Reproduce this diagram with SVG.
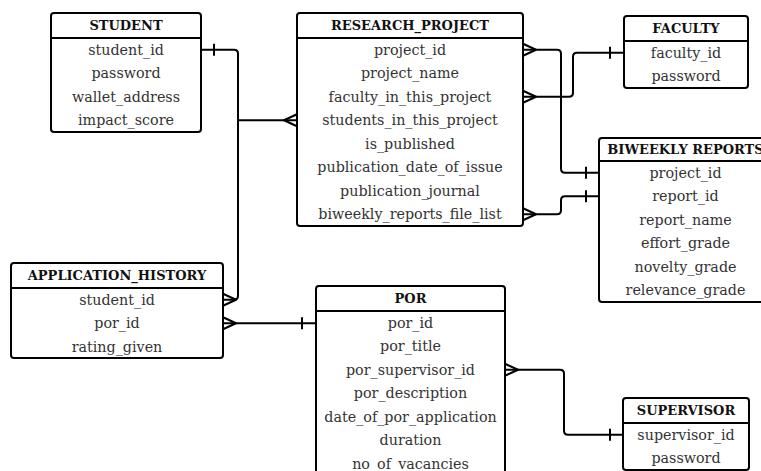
<svg xmlns="http://www.w3.org/2000/svg" width="761" height="471" viewBox="0 0 761 471">
<style>
.box{fill:#fff;stroke:#000;stroke-width:2}
.div{stroke:#000;stroke-width:2}
.t{font-family:"DejaVu Serif","Liberation Serif",serif;font-size:13px;font-weight:bold;fill:#111;text-anchor:middle;dominant-baseline:central}
.r{font-family:"DejaVu Serif","Liberation Serif",serif;font-size:14.3px;fill:#333;text-anchor:middle;dominant-baseline:central}
.c{fill:none;stroke:#000;stroke-width:2;stroke-linejoin:round}
</style>
<rect width="761" height="471" fill="#fff"/>
<g id="connectors">
<path class="c" d="M201,49.75 H234 Q238,49.75 238,53.75 V295.75 Q238,299.75 234,299.75 H223"/>
<path class="c" d="M214,43.75 V55.75"/>
<path class="c" d="M223,293.75 L236,299.75 L223,305.75"/>
<path class="c" d="M238,120.25 H297"/>
<path class="c" d="M297,114.25 L284,120.25 L297,126.25"/>
<path class="c" d="M523,49.75 H557 Q561,49.75 561,53.75 V168.75 Q561,172.75 565,172.75 H599"/>
<path class="c" d="M523,43.75 L536,49.75 L523,55.75"/>
<path class="c" d="M586,166.75 V178.75"/>
<path class="c" d="M523,96.75 H569 Q573,96.75 573,92.75 V56.75 Q573,52.75 577,52.75 H624"/>
<path class="c" d="M523,90.75 L536,96.75 L523,102.75"/>
<path class="c" d="M610,46.75 V58.75"/>
<path class="c" d="M523,214.25 H557 Q561,214.25 561,210.25 V200.25 Q561,196.25 565,196.25 H599"/>
<path class="c" d="M523,208.25 L536,214.25 L523,220.25"/>
<path class="c" d="M586,190.25 V202.25"/>
<path class="c" d="M223,323.25 H316"/>
<path class="c" d="M223,317.25 L236,323.25 L223,329.25"/>
<path class="c" d="M302,317.25 V329.25"/>
<path class="c" d="M505,369.75 H560 Q564,369.75 564,373.75 V430.75 Q564,434.75 568,434.75 H623"/>
<path class="c" d="M505,363.75 L518,369.75 L505,375.75"/>
<path class="c" d="M610,428.75 V440.75"/>
</g>
<g id="student">
<rect class="box" x="51" y="13" width="150" height="119" rx="3"/>
<line class="div" x1="51" y1="38" x2="201" y2="38"/>
<text class="t" x="126" y="25.5">STUDENT</text>
<text class="r" x="126" y="49.75">student_id</text>
<text class="r" x="126" y="73.25">password</text>
<text class="r" x="126" y="96.75">wallet_address</text>
<text class="r" x="126" y="120.25">impact_score</text>
</g>
<g id="research_project">
<rect class="box" x="297" y="13" width="226" height="213" rx="3"/>
<line class="div" x1="297" y1="38" x2="523" y2="38"/>
<text class="t" x="410" y="25.5">RESEARCH_PROJECT</text>
<text class="r" x="410" y="49.75">project_id</text>
<text class="r" x="410" y="73.25">project_name</text>
<text class="r" x="410" y="96.75">faculty_in_this_project</text>
<text class="r" x="410" y="120.25">students_in_this_project</text>
<text class="r" x="410" y="143.75">is_published</text>
<text class="r" x="410" y="167.25">publication_date_of_issue</text>
<text class="r" x="410" y="190.75">publication_journal</text>
<text class="r" x="410" y="214.25">biweekly_reports_file_list</text>
</g>
<g id="faculty">
<rect class="box" x="624" y="16" width="124" height="72" rx="3"/>
<line class="div" x1="624" y1="41" x2="748" y2="41"/>
<text class="t" x="686" y="28.5">FACULTY</text>
<text class="r" x="686" y="52.75">faculty_id</text>
<text class="r" x="686" y="76.25">password</text>
</g>
<g id="biweekly_reports">
<rect class="box" x="599" y="138" width="173" height="164" rx="3"/>
<line class="div" x1="599" y1="161" x2="772" y2="161"/>
<text class="t" x="685.5" y="149.5">BIWEEKLY REPORTS</text>
<text class="r" x="685.5" y="172.75">project_id</text>
<text class="r" x="685.5" y="196.25">report_id</text>
<text class="r" x="685.5" y="219.75">report_name</text>
<text class="r" x="685.5" y="243.25">effort_grade</text>
<text class="r" x="685.5" y="266.75">novelty_grade</text>
<text class="r" x="685.5" y="290.25">relevance_grade</text>
</g>
<g id="application_history">
<rect class="box" x="11" y="263" width="212" height="95" rx="3"/>
<line class="div" x1="11" y1="288" x2="223" y2="288"/>
<text class="t" x="117" y="275.5">APPLICATION_HISTORY</text>
<text class="r" x="117" y="299.75">student_id</text>
<text class="r" x="117" y="323.25">por_id</text>
<text class="r" x="117" y="346.75">rating_given</text>
</g>
<g id="por">
<rect class="box" x="316" y="286" width="189" height="195" rx="3"/>
<line class="div" x1="316" y1="311" x2="505" y2="311"/>
<text class="t" x="410.5" y="298.5">POR</text>
<text class="r" x="410.5" y="322.75">por_id</text>
<text class="r" x="410.5" y="346.25">por_title</text>
<text class="r" x="410.5" y="369.75">por_supervisor_id</text>
<text class="r" x="410.5" y="393.25">por_description</text>
<text class="r" x="410.5" y="416.75">date_of_por_application</text>
<text class="r" x="410.5" y="440.25">duration</text>
<text class="r" x="410.5" y="463.75">no_of_vacancies</text>
</g>
<g id="supervisor">
<rect class="box" x="623" y="398" width="126" height="72" rx="3"/>
<line class="div" x1="623" y1="423" x2="749" y2="423"/>
<text class="t" x="686" y="410.5">SUPERVISOR</text>
<text class="r" x="686" y="434.75">supervisor_id</text>
<text class="r" x="686" y="458.25">password</text>
</g>
</svg>
